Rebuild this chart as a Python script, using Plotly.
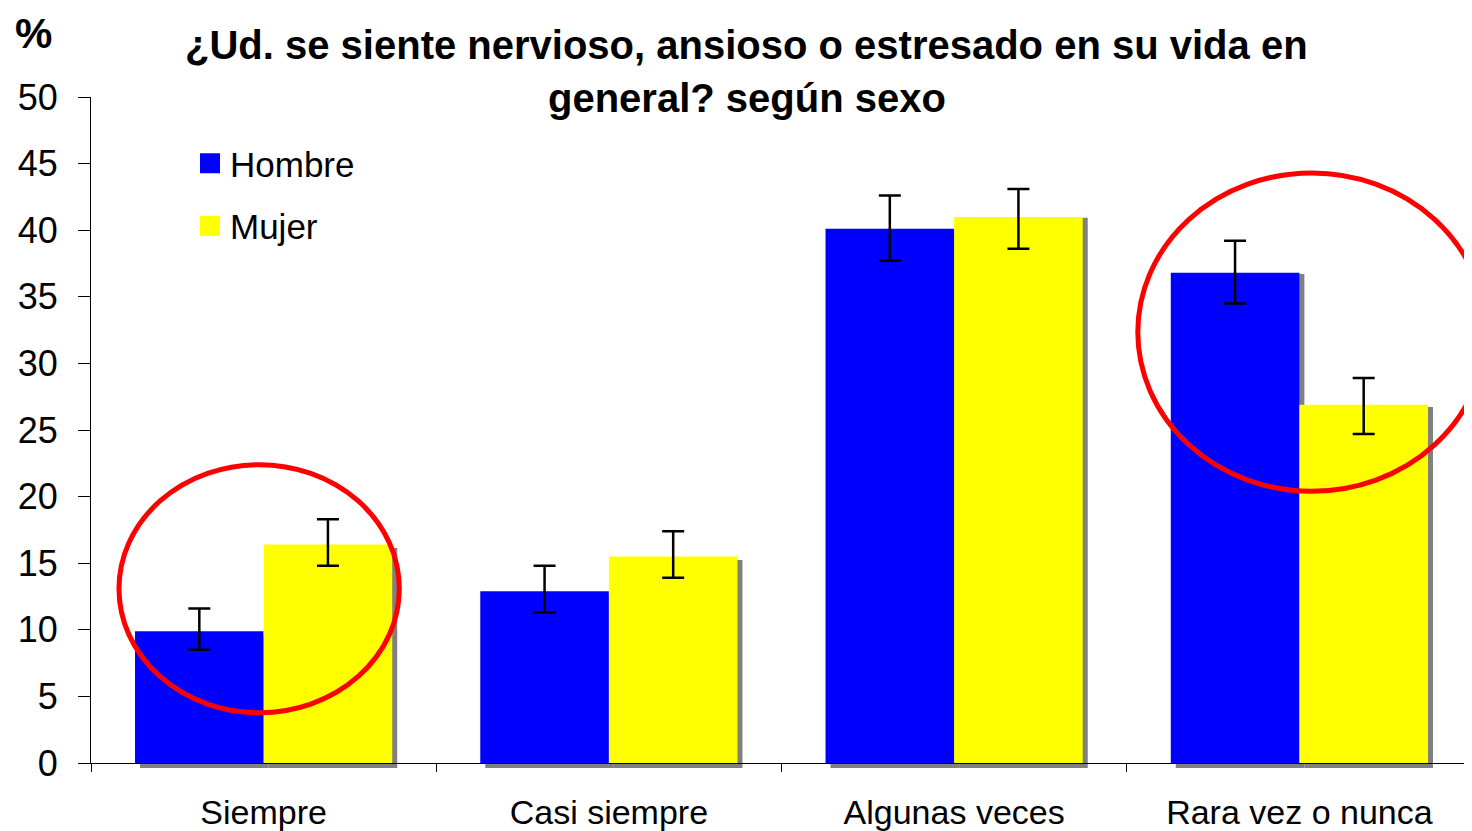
import plotly.graph_objects as go

categories = ["Siempre", "Casi siempre", "Algunas veces", "Rara vez o nunca"]
hombre = [9.9, 12.9, 40.1, 36.8]
mujer = [16.4, 15.5, 41.0, 26.9]
hombre_hi = [11.6, 14.8, 42.6, 39.2]
hombre_lo = [8.5, 11.3, 37.7, 34.5]
mujer_hi = [18.3, 17.4, 43.1, 28.9]
mujer_lo = [14.8, 13.9, 38.6, 24.7]
y_ticks = list(range(0, 51, 5))

FONT = "Arial, 'Liberation Sans', sans-serif"
BLUE = "#0000FF"
YELLOW = "#FFFF00"
SHADOW = "#808080"

# the page body adds an 8px margin; lay out in page pixels and compensate
OFF = 8
PAGE_W, PAGE_H = 1472, 831
W, H = PAGE_W - OFF, PAGE_H - OFF
ML, MR, MT, MB = 91 - OFF, 0, 97 - OFF, 63
pw = W - ML - MR
ph = H - MT - MB
sh = 5  # shadow offset px
dx = sh / pw
dy = sh / ph
cat_px = pw / 4
unit_px = (ph - sh) / 50


def px_x(page_x):
    return (page_x - OFF - ML) / pw


def px_y(page_y):
    return (H - MB - (page_y - OFF)) / ph


fig = go.Figure()

# drop shadows (base subplot x/y)
for vals in (hombre, mujer):
    fig.add_trace(go.Bar(x=categories, y=vals, marker=dict(color=SHADOW, line=dict(width=0)),
                         showlegend=False, hoverinfo="skip", xaxis="x", yaxis="y"))


def err(vals, hi, lo):
    return dict(type="data", symmetric=False,
                array=[h - v for h, v in zip(hi, vals)],
                arrayminus=[v - l for v, l in zip(vals, lo)],
                color="black", thickness=2.5, width=11)


fig.add_trace(go.Bar(x=categories, y=hombre, name="Hombre", legendgroup="h", showlegend=False,
                     marker=dict(color=BLUE, line=dict(width=0)),
                     error_y=err(hombre, hombre_hi, hombre_lo), xaxis="x2", yaxis="y2"))
fig.add_trace(go.Bar(x=categories, y=mujer, name="Mujer", legendgroup="m", showlegend=False,
                     marker=dict(color=YELLOW, line=dict(width=0)),
                     error_y=err(mujer, mujer_hi, mujer_lo), xaxis="x2", yaxis="y2"))

# legend entries with larger square keys
for name, color, grp in (("Hombre", BLUE, "h"), ("Mujer", YELLOW, "m")):
    fig.add_trace(go.Scatter(x=[None], y=[None], mode="markers", name=name, legendgroup=grp,
                             marker=dict(symbol="square", size=16, color=color,
                                         line=dict(color=color, width=4)),
                             xaxis="x2", yaxis="y2"))

fig.update_layout(
    width=W, height=H,
    margin=dict(l=ML, r=MR, t=MT, b=MB, pad=0),
    paper_bgcolor="white", plot_bgcolor="rgba(0,0,0,0)",
    barmode="group", bargap=0.255, bargroupgap=0,
    font=dict(family=FONT, color="black", size=35),
    xaxis=dict(domain=[dx, 1], range=[-0.5, 3.5 - sh / cat_px], visible=False,
               type="category", categoryarray=categories),
    yaxis=dict(domain=[0, 1 - dy], range=[0, 50 - sh / unit_px], visible=False),
    xaxis2=dict(domain=[0, 1], range=[-0.5, 3.5], type="category", categoryarray=categories,
                anchor="y2", showline=True, linecolor="black", linewidth=1,
                ticks="outside", ticklen=8, tickcolor="black", tickson="boundaries",
                showgrid=False, tickfont=dict(size=34), ticklabelstandoff=19),
    yaxis2=dict(domain=[dy, 1], range=[0, 50], anchor="x2", tickvals=y_ticks,
                showline=True, linecolor="black", linewidth=1, ticks="outside",
                ticklen=12, tickcolor="black", showgrid=False, zeroline=False,
                tickfont=dict(size=36), ticklabelstandoff=13),
    legend=dict(x=px_x(190), y=px_y(134), xanchor="left", yanchor="top",
                font=dict(size=35), bgcolor="rgba(0,0,0,0)", tracegroupgap=14,
                traceorder="grouped"),
    showlegend=True,
)

fig.add_annotation(text="<b>¿Ud. se siente nervioso, ansioso o estresado en su vida en</b>",
                   xref="paper", yref="paper", x=px_x(746), y=px_y(45),
                   xanchor="center", yanchor="middle", showarrow=False,
                   font=dict(size=40))
fig.add_annotation(text="<b>general? según sexo</b>",
                   xref="paper", yref="paper", x=px_x(747), y=px_y(98),
                   xanchor="center", yanchor="middle", showarrow=False,
                   font=dict(size=40))
fig.add_annotation(text="<b>%</b>", xref="paper", yref="paper",
                   x=px_x(33), y=px_y(33),
                   xanchor="center", yanchor="middle", showarrow=False,
                   font=dict(size=42))

# highlight ellipses
fig.add_shape(type="circle", xref="x2", yref="y2", x0=-0.419, x1=0.393, y0=3.77, y1=22.4,
              line=dict(color="#FF0000", width=5), layer="above")
fig.add_shape(type="circle", xref="x2", yref="y2", x0=2.532, x1=3.54, y0=20.4, y1=44.3,
              line=dict(color="#FF0000", width=5), layer="above")

fig.write_html("out.html")
